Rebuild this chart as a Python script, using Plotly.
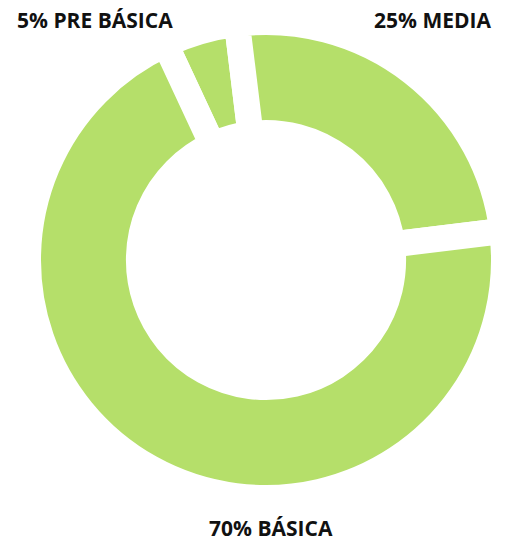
import plotly.graph_objects as go

# Distribution by education level
categories = ["PRE BÁSICA", "MEDIA", "BÁSICA"]
values = [5, 25, 70]

GREEN = "#b5df6a"

fig = go.Figure(
    go.Pie(
        labels=categories,
        values=values,
        hole=0.534,
        sort=False,
        direction="clockwise",
        rotation=-25,
        marker=dict(colors=[GREEN] * len(values), line=dict(color="white", width=26)),
        textinfo="none",
        hoverinfo="label+percent",
        showlegend=False,
    )
)

# Label text built from the data
label_text = {c: f"{v}% {c}" for c, v in zip(categories, values)}
font = dict(family="Open Sans", size=21, color="#111111")
annotations = [
    dict(text=f"<b>{label_text['PRE BÁSICA']}</b>", x=-0.027, y=1.004,
         xanchor="left", yanchor="middle"),
    dict(text=f"<b>{label_text['MEDIA']}</b>", x=0.977, y=1.004,
         xanchor="right", yanchor="middle"),
    dict(text=f"<b>{label_text['BÁSICA']}</b>", x=0.5105, y=-0.064,
         xanchor="center", yanchor="middle"),
]
for a in annotations:
    a.update(xref="paper", yref="paper", showarrow=False, font=font)

fig.update_layout(
    width=505,
    height=543,
    margin=dict(l=28, r=1, t=22, b=45),
    paper_bgcolor="white",
    plot_bgcolor="white",
    annotations=annotations,
)

fig.write_html("out.html")
